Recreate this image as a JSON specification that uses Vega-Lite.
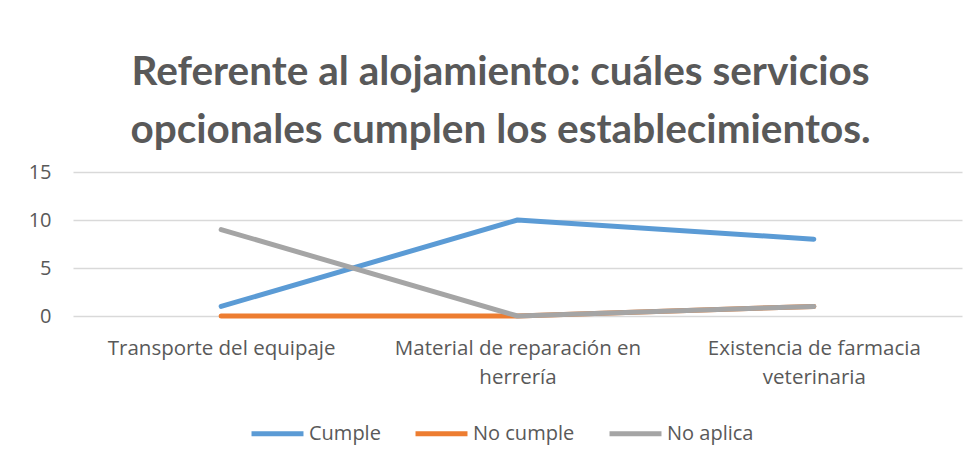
{
  "$schema": "https://vega.github.io/schema/vega-lite/v6.json",
  "width": 889,
  "height": 144,
  "autosize": {"type": "none"},
  "padding": {"left": 73, "top": 172, "right": 15, "bottom": 143},
  "background": "white",
  "title": {
    "text": ["Referente al alojamiento: cuáles servicios", "opcionales cumplen los establecimientos."],
    "font": "Lato",
    "fontSize": 40.5,
    "fontWeight": "bold",
    "color": "#595959",
    "lineHeight": 58,
    "anchor": "middle",
    "dx": -17,
    "offset": 11
  },
  "data": {
    "values": [
      {"categoria": "Transporte del equipaje", "serie": "Cumple", "valor": 1},
      {"categoria": "Material de reparación en herrería", "serie": "Cumple", "valor": 10},
      {"categoria": "Existencia de farmacia veterinaria", "serie": "Cumple", "valor": 8},
      {"categoria": "Transporte del equipaje", "serie": "No cumple", "valor": 0},
      {"categoria": "Material de reparación en herrería", "serie": "No cumple", "valor": 0},
      {"categoria": "Existencia de farmacia veterinaria", "serie": "No cumple", "valor": 1},
      {"categoria": "Transporte del equipaje", "serie": "No aplica", "valor": 9},
      {"categoria": "Material de reparación en herrería", "serie": "No aplica", "valor": 0},
      {"categoria": "Existencia de farmacia veterinaria", "serie": "No aplica", "valor": 1}
    ]
  },
  "mark": {"type": "line", "strokeWidth": 5, "strokeCap": "round", "strokeJoin": "round"},
  "encoding": {
    "x": {
      "field": "categoria",
      "type": "nominal",
      "sort": null,
      "scale": {"paddingInner": 0, "paddingOuter": 0.5},
      "axis": {
        "title": null,
        "domain": false,
        "ticks": false,
        "labelAngle": 0,
        "labelFont": "Open Sans",
        "labelFontSize": 20.5,
        "labelColor": "#595959",
        "labelPadding": 22,
        "labelLineHeight": 29,
        "labelLimit": 500,
        "labelExpr": "datum.value == 'Material de reparación en herrería' ? ['Material de reparación en', 'herrería'] : datum.value == 'Existencia de farmacia veterinaria' ? ['Existencia de farmacia', 'veterinaria'] : datum.value"
      }
    },
    "y": {
      "field": "valor",
      "type": "quantitative",
      "scale": {"domain": [0, 15]},
      "axis": {
        "title": null,
        "domain": false,
        "ticks": false,
        "values": [0, 5, 10, 15],
        "labelFont": "Open Sans",
        "labelFontSize": 20,
        "labelColor": "#595959",
        "labelPadding": 22,
        "gridColor": "#d9d9d9",
        "gridWidth": 1.5
      }
    },
    "color": {
      "field": "serie",
      "type": "nominal",
      "sort": ["Cumple", "No cumple", "No aplica"],
      "scale": {"domain": ["Cumple", "No cumple", "No aplica"], "range": ["#5b9bd5", "#ed7d31", "#a5a5a5"]},
      "legend": {
        "title": null,
        "orient": "none",
        "direction": "horizontal",
        "legendX": 176,
        "legendY": 233,
        "symbolType": "stroke",
        "symbolSize": 2700,
        "symbolStrokeWidth": 5,
        "labelFont": "Open Sans",
        "labelFontSize": 20,
        "labelColor": "#595959",
        "labelOffset": 3,
        "columnPadding": 24
      }
    }
  },
  "config": {"view": {"stroke": null}}
}
